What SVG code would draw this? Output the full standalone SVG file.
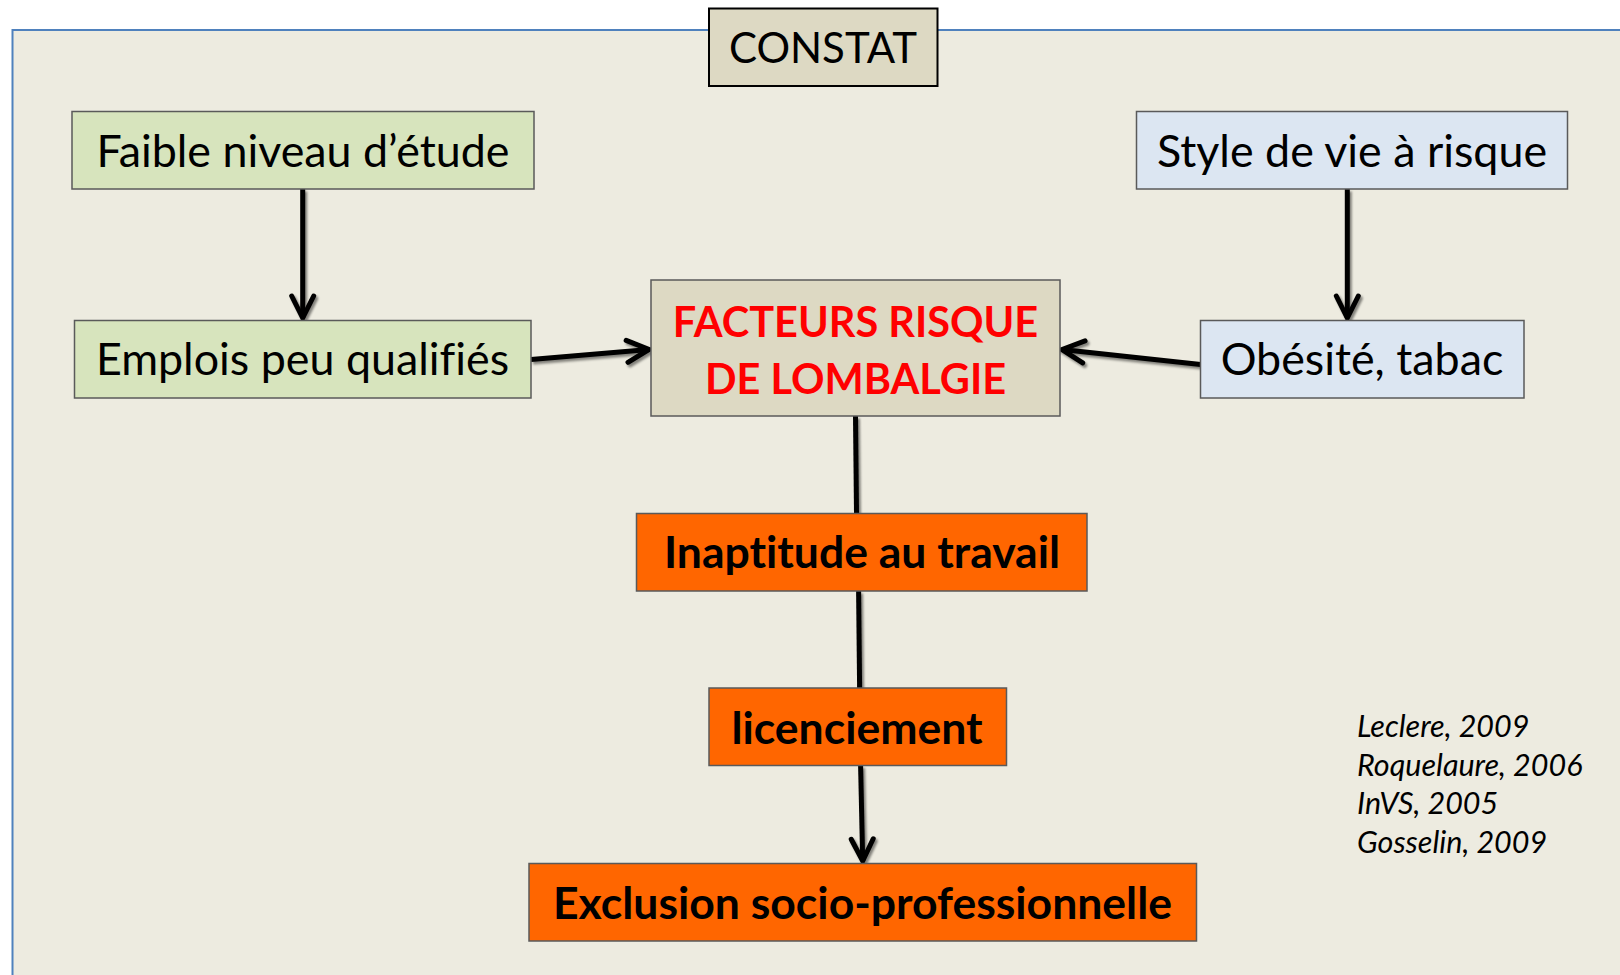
<svg xmlns="http://www.w3.org/2000/svg" width="1620" height="975" viewBox="0 0 1620 975">
<style>
.box{stroke:#5a5a5a;stroke-width:1.5}
.t{font-family:Lato,"Liberation Sans",sans-serif;text-anchor:middle;fill:#000;font-variant-ligatures:none}
.n{font-size:44.8px}
.b{font-size:44.5px;font-weight:bold}
.r{fill:#ff0000;font-weight:bold;font-size:41.5px}
.cit{font-family:Lato,"Liberation Sans",sans-serif;font-style:italic;font-size:30.5px;fill:#000}
.c{stroke:#000;stroke-width:5;fill:none;stroke-linecap:butt}
</style>
<defs>
<filter id="sh" x="-20%" y="-20%" width="140%" height="140%">
<feDropShadow dx="2" dy="2.5" stdDeviation="1" flood-color="#000" flood-opacity="0.45"/>
</filter>
<marker id="ah" markerUnits="userSpaceOnUse" markerWidth="40" markerHeight="40" viewBox="-30 -20 40 40" refX="0" refY="0" orient="auto">
<path d="M-22,-11 L0,0 L-22,11" fill="none" stroke="#000" stroke-width="5" stroke-linejoin="miter" stroke-linecap="round"/>
</marker>
</defs>
<rect x="0" y="0" width="1620" height="975" fill="#ffffff"/>
<rect x="12.5" y="30" width="1640" height="980" fill="#edebe0" stroke="#4f81bd" stroke-width="2"/>
<g id="connectors" filter="url(#sh)">
<line class="c" x1="302.7" y1="189" x2="302.7" y2="318" marker-end="url(#ah)"/>
<line class="c" x1="1347.3" y1="189" x2="1347.3" y2="318" marker-end="url(#ah)"/>
<line class="c" x1="531" y1="359.5" x2="649" y2="349.5" marker-end="url(#ah)"/>
<line class="c" x1="1200.6" y1="364.5" x2="1062" y2="349.5" marker-end="url(#ah)"/>
<line class="c" x1="855.5" y1="416" x2="856.5" y2="513.5"/>
<line class="c" x1="858.6" y1="591" x2="859.6" y2="688"/>
<line class="c" x1="860.6" y1="765.6" x2="862.7" y2="861" marker-end="url(#ah)"/>
</g>
<g id="constat">
<rect x="709" y="8.5" width="228.5" height="77.5" fill="#ddd9c3" stroke="#000" stroke-width="2"/>
<text class="t" x="823" y="63" style="font-size:42px">CONSTAT</text>
</g>
<g id="faible">
<rect class="box" x="72" y="111.5" width="462" height="77.5" fill="#d7e4bd"/>
<text class="t n" x="303" y="167">Faible niveau d’étude</text>
</g>
<g id="emplois">
<rect class="box" x="74.5" y="320.5" width="456.5" height="77.5" fill="#d7e4bd"/>
<text class="t n" x="302.5" y="375">Emplois peu qualifiés</text>
</g>
<g id="style">
<rect class="box" x="1136.5" y="111.5" width="431" height="77.5" fill="#dce6f2"/>
<text class="t n" x="1352" y="167">Style de vie à risque</text>
</g>
<g id="obesite">
<rect class="box" x="1200.5" y="320.5" width="323.5" height="77.5" fill="#dce6f2"/>
<text class="t n" x="1362" y="375">Obésité, tabac</text>
</g>
<g id="facteurs">
<rect class="box" x="651" y="280" width="409" height="136" fill="#ddd9c3"/>
<text class="t r" x="855.5" y="337">FACTEURS RISQUE</text>
<text class="t r" x="855.5" y="393.5">DE LOMBALGIE</text>
</g>
<g id="inaptitude">
<rect class="box" x="636.5" y="513.5" width="450.5" height="77.5" fill="#ff6600"/>
<text class="t b" x="862" y="568">Inaptitude au travail</text>
</g>
<g id="licenciement">
<rect class="box" x="709" y="688" width="297.5" height="77.5" fill="#ff6600"/>
<text class="t b" x="857" y="744">licenciement</text>
</g>
<g id="exclusion">
<rect class="box" x="529" y="863.5" width="667.5" height="77.5" fill="#ff6600"/>
<text class="t b" x="862.5" y="918.5">Exclusion socio-professionnelle</text>
</g>
<g id="citations">
<text class="cit" x="1357" y="737">Leclere, 2009</text>
<text class="cit" x="1357" y="775.5">Roquelaure, 2006</text>
<text class="cit" x="1357" y="814">InVS, 2005</text>
<text class="cit" x="1357" y="852.5">Gosselin, 2009</text>
</g>
</svg>
